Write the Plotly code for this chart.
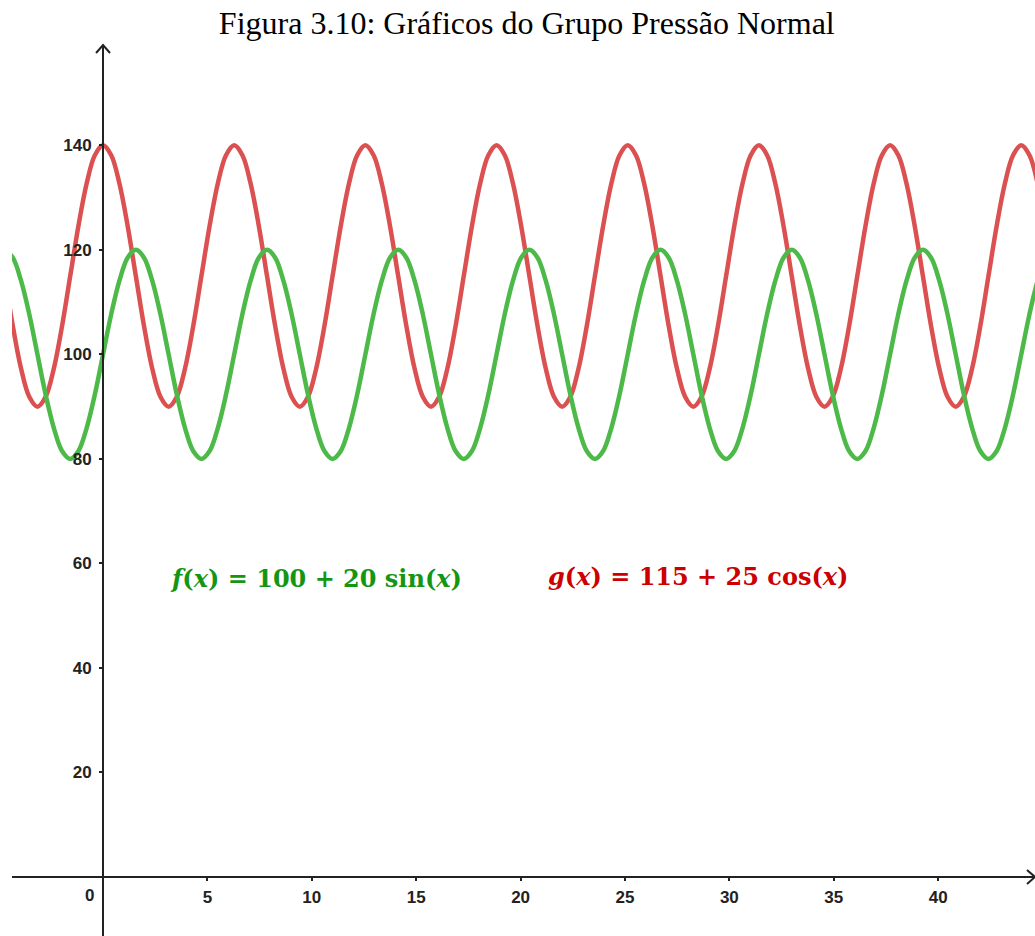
import plotly.graph_objects as go

X0 = -4.712
DX = 0.3927
f_values = [120, 118.5, 114.1, 107.7, 100, 92.3, 85.9, 81.5, 80, 81.5, 85.9, 92.3, 100, 107.7, 114.1, 118.5,
            120, 118.5, 114.1, 107.7, 100, 92.3, 85.9, 81.5, 80, 81.5, 85.9, 92.3, 100, 107.7, 114.1, 118.5,
            120, 118.5, 114.1, 107.7, 100, 92.3, 85.9, 81.5, 80, 81.5, 85.9, 92.3, 100, 107.7, 114.1, 118.5,
            120, 118.5, 114.1, 107.7, 100, 92.3, 85.9, 81.5, 80, 81.5, 85.9, 92.3, 100, 107.7, 114.1, 118.5,
            120, 118.5, 114.1, 107.7, 100, 92.3, 85.9, 81.5, 80, 81.5, 85.9, 92.3, 100, 107.7, 114.1, 118.5,
            120, 118.5, 114.1, 107.7, 100, 92.3, 85.9, 81.5, 80, 81.5, 85.9, 92.3, 100, 107.7, 114.1, 118.5,
            120, 118.5, 114.1, 107.7, 100, 92.3, 85.9, 81.5, 80, 81.5, 85.9, 92.3, 100, 107.7, 114.1, 118.5,
            120, 118.5, 114.1, 107.7, 100, 92.3, 85.9, 81.5, 80, 81.5, 85.9, 92.3, 100, 107.7, 114.1, 118.5,
            120]
g_values = [115, 105.4, 97.3, 91.9, 90, 91.9, 97.3, 105.4, 115, 124.6, 132.7, 138.1, 140, 138.1, 132.7, 124.6,
            115, 105.4, 97.3, 91.9, 90, 91.9, 97.3, 105.4, 115, 124.6, 132.7, 138.1, 140, 138.1, 132.7, 124.6,
            115, 105.4, 97.3, 91.9, 90, 91.9, 97.3, 105.4, 115, 124.6, 132.7, 138.1, 140, 138.1, 132.7, 124.6,
            115, 105.4, 97.3, 91.9, 90, 91.9, 97.3, 105.4, 115, 124.6, 132.7, 138.1, 140, 138.1, 132.7, 124.6,
            115, 105.4, 97.3, 91.9, 90, 91.9, 97.3, 105.4, 115, 124.6, 132.7, 138.1, 140, 138.1, 132.7, 124.6,
            115, 105.4, 97.3, 91.9, 90, 91.9, 97.3, 105.4, 115, 124.6, 132.7, 138.1, 140, 138.1, 132.7, 124.6,
            115, 105.4, 97.3, 91.9, 90, 91.9, 97.3, 105.4, 115, 124.6, 132.7, 138.1, 140, 138.1, 132.7, 124.6,
            115, 105.4, 97.3, 91.9, 90, 91.9, 97.3, 105.4, 115, 124.6, 132.7, 138.1, 140, 138.1, 132.7, 124.6,
            115]

x_ticks = [5, 10, 15, 20, 25, 30, 35, 40]
y_ticks = [20, 40, 60, 80, 100, 120, 140]

X_RANGE = [-4.36, 44.64]
Y_RANGE = [-11.3, 159.2]

GREEN = "rgb(76,185,72)"
RED = "rgb(219,80,80)"
AXIS = "#222222"
TICKFONT = dict(family="Liberation Sans", size=17, color="#222222", weight="bold")

fig = go.Figure()
fig.add_trace(go.Scatter(x0=X0, dx=DX, y=g_values, mode="lines",
                         line=dict(color=RED, width=4.5, shape="spline", smoothing=1.0),
                         hoverinfo="skip", showlegend=False))
fig.add_trace(go.Scatter(x0=X0, dx=DX, y=f_values, mode="lines",
                         line=dict(color=GREEN, width=4.5, shape="spline", smoothing=1.0),
                         hoverinfo="skip", showlegend=False))

x_pos = (0 - Y_RANGE[0]) / (Y_RANGE[1] - Y_RANGE[0])
y_pos = (0 - X_RANGE[0]) / (X_RANGE[1] - X_RANGE[0])

fig.update_layout(
    width=1035, height=936,
    margin=dict(l=12, r=0, t=45, b=0),
    paper_bgcolor="white", plot_bgcolor="white",
    title=dict(text="Figura 3.10: Gráficos do Grupo Pressão Normal",
               font=dict(family="Liberation Serif", size=32, color="black"),
               x=0.509, xanchor="center", y=1 - 23 / 936, yanchor="middle",
               xref="container", yref="container"),
    xaxis=dict(range=X_RANGE, showgrid=False, zeroline=False,
               showline=True, linecolor=AXIS, linewidth=2,
               anchor="free", position=x_pos, side="bottom",
               tickmode="array", tickvals=x_ticks, ticktext=[str(v) for v in x_ticks],
               ticks="outside", ticklen=3, tickwidth=2, tickcolor=AXIS,
               ticklabelstandoff=2, tickfont=TICKFONT),
    yaxis=dict(range=Y_RANGE, showgrid=False, zeroline=False,
               showline=True, linecolor=AXIS, linewidth=2,
               anchor="free", position=y_pos, side="left",
               tickmode="array", tickvals=y_ticks, ticktext=[str(v) for v in y_ticks],
               ticks="outside", ticklen=3, tickwidth=2, tickcolor=AXIS,
               ticklabelstandoff=4, tickfont=TICKFONT),
)

# "0" label placed at the origin, below-left as in the reference
fig.add_annotation(x=0, y=0, text="0", showarrow=False, xanchor="right", yanchor="top",
                   xshift=-7, yshift=-7, font=TICKFONT)

# Arrowheads at the axis ends
fig.add_shape(type="path", xref="x", yref="paper", xsizemode="pixel", ysizemode="pixel",
              xanchor=0, yanchor=1,
              path="M -7,-8 L 0,0 L 7,-8", line=dict(color=AXIS, width=2))
fig.add_shape(type="path", xref="paper", yref="y", xsizemode="pixel", ysizemode="pixel",
              xanchor=1, yanchor=0,
              path="M -8,-7 L 0,0 L -8,7", line=dict(color=AXIS, width=2))

# Function labels
fig.add_annotation(x=10.18, y=57.2, xref="x", yref="y", showarrow=False,
                   text="<b><i>f</i>(<i>x</i>) = 100 + 20 sin(<i>x</i>)</b>",
                   font=dict(family="DejaVu Serif", size=24, color="rgb(20,150,20)"))
fig.add_annotation(x=28.5, y=57.4, xref="x", yref="y", showarrow=False,
                   text="<b><i>g</i>(<i>x</i>) = 115 + 25 cos(<i>x</i>)</b>",
                   font=dict(family="DejaVu Serif", size=24, color="rgb(204,0,0)"))

fig.write_html("out.html")
